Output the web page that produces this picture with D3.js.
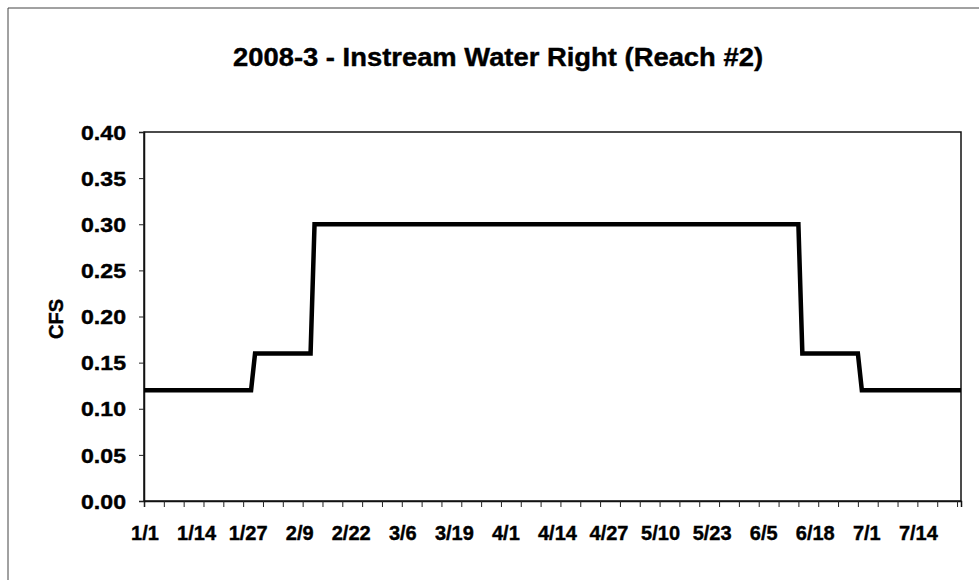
<!DOCTYPE html>
<html>
<head>
<meta charset="utf-8">
<script src="https://cdn.jsdelivr.net/npm/d3@7/dist/d3.min.js"></script>
<style>
  html, body { margin: 0; padding: 0; background: #fff; }
  svg { display: block; }
  text { font-family: Arial, "Liberation Sans", sans-serif; font-weight: bold; fill: #000; stroke: #000; stroke-width: 0.4px; }
</style>
</head>
<body>
<script>
// ---- data ----
const chartTitle = "2008-3 - Instream Water Right (Reach #2)";
const yAxisTitle = "CFS";
// step breakpoints (month/day, 2008)
const stepDates  = ["1/1", "1/28", "1/29", "2/12", "2/13", "6/14", "6/15", "6/29", "6/30", "7/25"];
const stepValues = [0.12, 0.12, 0.16, 0.16, 0.30, 0.30, 0.16, 0.16, 0.12, 0.12];
const xTickLabels = ["1/1","1/14","1/27","2/9","2/22","3/6","3/19","4/1","4/14","4/27","5/10","5/23","6/5","6/18","7/1","7/14"];
const yTickValues = [0, 0.05, 0.10, 0.15, 0.20, 0.25, 0.30, 0.35, 0.40];
const axisStart = "1/1";
const axisEnd = "7/25";

// ---- helpers ----
const parseMD = s => { const [m, d] = s.split("/").map(Number); return new Date(Date.UTC(2008, m - 1, d)); };

const W = 979, H = 580;
const margin = { left: 144, right: W - 961, top: 132, bottom: H - 501 };

const svg = d3.select("body").append("svg").attr("width", W).attr("height", H);

// outer chart frame (partially visible)
svg.append("path")
  .attr("d", `M8,${H} V8 H${W}`)
  .attr("fill", "none").attr("stroke", "#444").attr("stroke-width", 1);

const x = d3.scaleUtc()
  .domain([parseMD(axisStart), parseMD(axisEnd)])
  .range([margin.left, W - margin.right]);
const y = d3.scaleLinear()
  .domain([0, 0.40])
  .range([H - margin.bottom, margin.top]);

// title
svg.append("text")
  .attr("x", 498).attr("y", 66)
  .attr("text-anchor", "middle")
  .style("font-size", "25px")
  .attr("textLength", 530).attr("lengthAdjust", "spacingAndGlyphs")
  .text(chartTitle);

// plot border
svg.append("rect")
  .attr("x", margin.left).attr("y", margin.top)
  .attr("width", W - margin.right - margin.left)
  .attr("height", H - margin.bottom - margin.top)
  .attr("fill", "none").attr("stroke", "#111").attr("stroke-width", 1.5);

// minor x ticks every 5 days
const start = parseMD(axisStart), end = parseMD(axisEnd);
const minorTicks = d3.utcDay.range(start, d3.utcDay.offset(end, 1)).filter((d, i) => i % 5 === 0);
const xAxis = d3.axisBottom(x).tickValues(minorTicks).tickSize(6).tickFormat("");
const gx = svg.append("g").attr("transform", `translate(0,${H - margin.bottom})`).call(xAxis);
gx.select(".domain").attr("stroke", "#111").attr("stroke-width", 1.5);
gx.selectAll(".tick line").attr("stroke", "#222").attr("stroke-width", 1);

// x labels
svg.append("g").selectAll("text")
  .data(xTickLabels)
  .join("text")
  .attr("x", d => x(parseMD(d)) + 1)
  .attr("y", 540)
  .attr("text-anchor", "middle")
  .style("font-size", "20px")
  .text(d => d);

// y axis
const yAxis = d3.axisLeft(y).tickValues(yTickValues).tickSize(5).tickFormat(d3.format(".2f"));
const gy = svg.append("g").attr("transform", `translate(${margin.left},0)`).call(yAxis);
gy.select(".domain").attr("stroke", "#111").attr("stroke-width", 1.5);
gy.selectAll(".tick line").attr("stroke", "#222");
gy.selectAll(".tick text")
  .attr("x", -18)
  .attr("dy", "0.36em")
  .attr("textLength", 45).attr("lengthAdjust", "spacingAndGlyphs")
  .style("font-size", "20px")
  .style("font-family", 'Arial, "Liberation Sans", sans-serif')
  .style("font-weight", "bold")
  .attr("fill", "#000");

// y axis title
svg.append("text")
  .attr("transform", "translate(63,319) rotate(-90)")
  .attr("text-anchor", "middle")
  .style("font-size", "20px")
  .text(yAxisTitle);

// step line
const pts = stepDates.map((d, i) => [parseMD(d), stepValues[i]]);
svg.append("path")
  .datum(pts)
  .attr("fill", "none")
  .attr("stroke", "#000")
  .attr("stroke-width", 4.5)
  .attr("stroke-linejoin", "miter")
  .attr("d", d3.line().x(d => x(d[0])).y(d => y(d[1])));
</script>
</body>
</html>
